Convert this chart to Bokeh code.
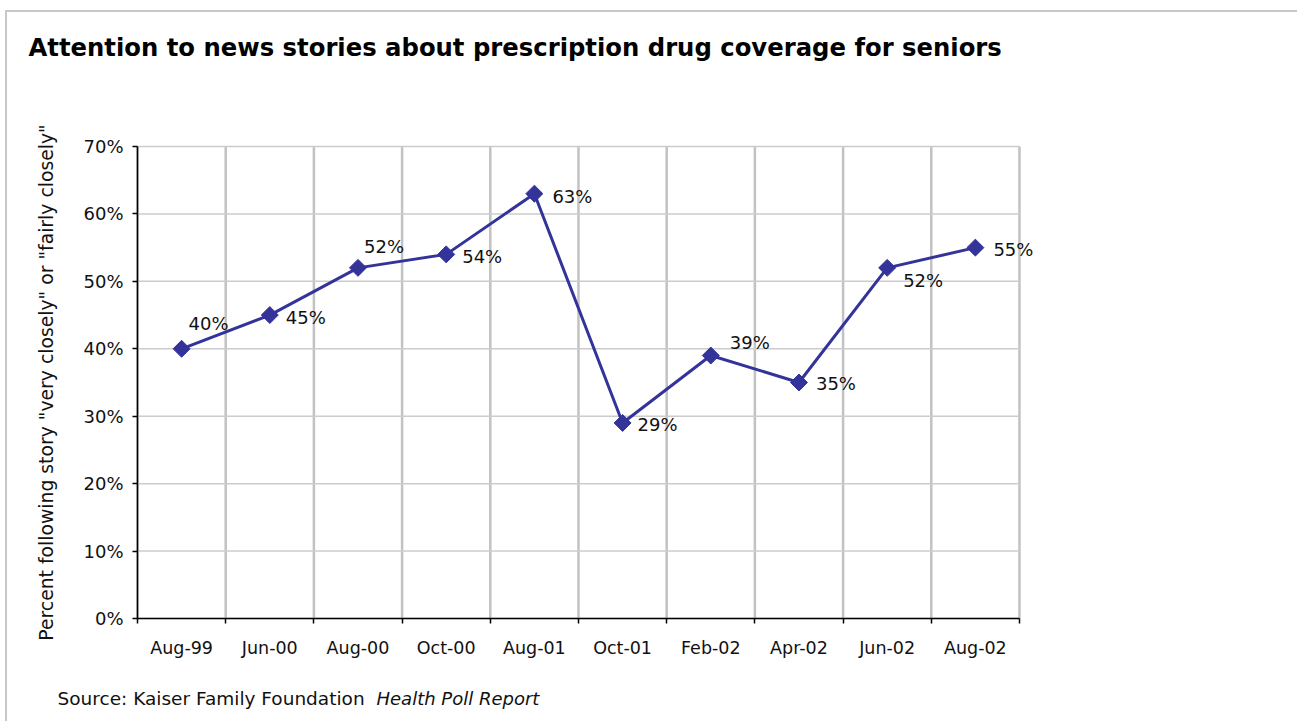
import math
from bokeh.plotting import figure
from bokeh.models import FixedTicker, Label, LabelSet, ColumnDataSource
from bokeh.core.properties import value
from bokeh.embed import file_html
from bokeh.resources import INLINE

categories = ["Aug-99", "Jun-00", "Aug-00", "Oct-00", "Aug-01",
              "Oct-01", "Feb-02", "Apr-02", "Jun-02", "Aug-02"]
percent = [40, 45, 52, 54, 63, 29, 39, 35, 52, 55]
y_ticks = [0, 10, 20, 30, 40, 50, 60, 70]

# label placement offsets in pixels (layout only; +y is upward)
label_dx = [7, 16, 6, 16, 18, 15, 19, 17, 16, 18]
label_dy = [25, -2, 21, -2, -3, -2, 13, -1, -13, -2]

n = len(categories)
xs = [i + 0.5 for i in range(n)]
bounds_x = list(range(n + 1))
y_max = y_ticks[-1]

# The frame fills the whole canvas; the visible ranges are widened so the
# plotting area sits where the reference draws it.
W, H = 1292, 711
p = figure(width=W, height=H, output_backend="svg", toolbar_location=None,
           x_range=(-1.474, 13.175), y_range=(-15.57, 89.87),
           min_border=0)
p.margin = (10, 0, 0, 5)
p.styles = {"border-top": "2px solid #c8c8c8", "border-left": "2px solid #c8c8c8"}
p.outline_line_color = None
p.background_fill_color = "white"
p.border_fill_color = "white"
p.xgrid.visible = False
p.ygrid.visible = False

# grid lines (vertical at band boundaries, horizontal at y ticks)
p.segment(x0=bounds_x, x1=bounds_x, y0=[0] * len(bounds_x), y1=[y_max] * len(bounds_x),
          line_color="#c2c2c2", line_width=2.5)
p.segment(x0=[0] * len(y_ticks), x1=[n] * len(y_ticks), y0=y_ticks, y1=y_ticks,
          line_color="#cccccc", line_width=1.5)

# x axis: labels at band centres, tick marks at band boundaries
xt = FixedTicker(ticks=xs, minor_ticks=bounds_x)
p.xaxis.fixed_location = 0
p.xaxis.bounds = (0, n)
p.xaxis.ticker = xt
p.xaxis.major_label_overrides = {x: c for x, c in zip(xs, categories)}
p.xaxis.major_tick_out = 0
p.xaxis.major_tick_in = 0
p.xaxis.minor_tick_out = 5
p.xaxis.minor_tick_in = 0
p.xaxis.minor_tick_line_color = "black"
p.xaxis.minor_tick_line_width = 1.5
p.xaxis.axis_line_color = "black"
p.xaxis.axis_line_width = 1.5
p.xaxis.major_label_text_font = "DejaVu Sans"
p.xaxis.major_label_text_font_size = "17.5px"
p.xaxis.major_label_text_color = "#111111"
p.xaxis.major_label_standoff = 14

p.yaxis.fixed_location = 0
p.yaxis.bounds = (0, y_max)
p.yaxis.ticker = FixedTicker(ticks=y_ticks)
p.yaxis.major_label_overrides = {t: f"{t}%" for t in y_ticks}
p.yaxis.major_tick_out = 5
p.yaxis.major_tick_in = 0
p.yaxis.minor_tick_line_color = None
p.yaxis.major_tick_line_width = 1.5
p.yaxis.axis_line_color = "black"
p.yaxis.axis_line_width = 1.5
p.yaxis.major_label_text_font = "DejaVu Sans"
p.yaxis.major_label_text_font_size = "18px"
p.yaxis.major_label_text_color = "#111111"
p.yaxis.major_label_standoff = 9
p.yaxis.axis_label = 'Percent following story "very closely" or "fairly closely"'
p.yaxis.axis_label_text_font = "DejaVu Sans"
p.yaxis.axis_label_text_font_size = "18.8px"
p.yaxis.axis_label_text_font_style = "normal"
p.yaxis.axis_label_text_color = "#111111"
p.yaxis.axis_label_standoff = 23

src = ColumnDataSource(dict(x=xs, y=percent,
                            lab=[f"{v}%" for v in percent],
                            dx=label_dx, dy=label_dy))
color = "#333399"
p.line("x", "y", source=src, line_color=color, line_width=3)
p.scatter("x", "y", source=src, marker="square", angle=math.pi / 4, size=12,
          fill_color=color, line_color=color)
labels = LabelSet(x="x", y="y", text="lab", source=src, x_offset="dx", y_offset="dy",
                  text_align="left", text_baseline="middle",
                  text_font=value("DejaVu Sans"), text_font_size="18px",
                  text_color="#111111")
p.add_layout(labels)

# screen units: origin at the frame's bottom-left corner
title = Label(x=21, y=676, x_units="screen", y_units="screen",
              text="Attention to news stories about prescription drug coverage for seniors",
              text_font="DejaVu Sans", text_font_style="bold",
              text_font_size="24.3px", text_color="#000000",
              text_baseline="middle", text_align="left")
p.add_layout(title)

src1 = Label(x=50, y=25, x_units="screen", y_units="screen",
             text="Source: Kaiser Family Foundation",
             text_font="DejaVu Sans", text_font_size="18.5px", text_color="#111111",
             text_baseline="middle", text_align="left")
src2 = Label(x=369, y=25, x_units="screen", y_units="screen",
             text="Health Poll Report",
             text_font="DejaVu Sans", text_font_style="italic",
             text_font_size="18px", text_color="#111111",
             text_baseline="middle", text_align="left")
p.add_layout(src1)
p.add_layout(src2)

open("out.html", "w").write(file_html(p, INLINE))
